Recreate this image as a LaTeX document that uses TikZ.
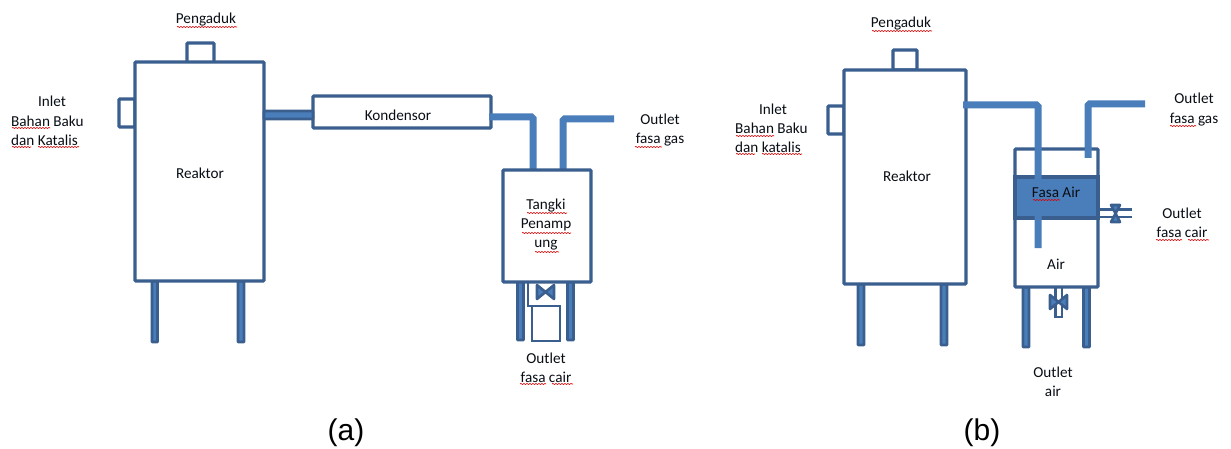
\documentclass[tikz,border=0pt]{standalone}
\usepackage{fontspec}
\setmainfont{Carlito}
\newfontfamily\capfont{Liberation Sans}
\usetikzlibrary{decorations.pathmorphing}
\definecolor{edgeblue}{HTML}{3A5F8F}
\definecolor{fillblue}{HTML}{4A7EBB}
\tikzset{
  x=1pt,y=-1pt,
  vessel/.style={draw=edgeblue,line width=3.2pt,rounded corners=0.8pt,fill=white,outer sep=0pt,inner sep=0pt,anchor=north west},
  legbar/.style={draw=edgeblue,line width=2.8pt,fill=fillblue,rounded corners=0.5pt},
  pipe/.style={draw=fillblue,line width=7pt,rounded corners=1.5pt},
  valve/.style={draw=edgeblue,line width=2.6pt,fill=fillblue,line join=round},
  txt/.style={font=\fontsize{15.2}{19.2}\selectfont,text=black!85!edgeblue,align=center,inner sep=0pt},
  sub/.style={font=\fontsize{30}{34}\selectfont\capfont,text=black,inner sep=0pt},
  sq/.style={draw=red!85!black,line width=0.6pt,decorate,decoration={snake,amplitude=0.6pt,segment length=3pt}},
}
\begin{document}
\begin{tikzpicture}
\useasboundingbox (0,0) rectangle (1231,449);
% ---------- (a)
\node[vessel,minimum width=27pt,minimum height=20pt] (stirA) at (187,43) {};
\node[vessel,minimum width=16pt,minimum height=28pt] (inA) at (119,99) {};
\draw[legbar] (152,281) rectangle (157.5,342);
\draw[legbar] (238,281) rectangle (244,342);
\node[vessel,minimum width=129pt,minimum height=219pt] (reakA) at (135,62) {};
\node[vessel,minimum width=178pt,minimum height=32pt] (kond) at (313,96) {};
\draw[legbar] (reakA.east |- 0,111) rectangle (kond.west |- 0,119);
\coordinate (kondOut) at (489,117);
\coordinate (tankInA) at (533,170);
\coordinate (tankOutA) at (563,170);
\coordinate (gasA) at (614,119);
\draw[pipe] (kondOut) -- (tankInA |- kondOut) -- (tankInA);
\draw[pipe] (tankOutA) -- (tankOutA |- gasA) -- (gasA);
\draw[legbar] (517.5,281) rectangle (523.5,340);
\draw[legbar] (567.5,281) rectangle (573.5,340);
\node[vessel,minimum width=88pt,minimum height=112pt] (tankA) at (503,170) {};
\draw[edgeblue,line width=2.4pt] (528,282) -- (528,306) -- (532,306);
\node[anchor=north west,draw=edgeblue,line width=2.8pt,minimum width=28pt,minimum height=35pt,inner sep=0pt,outer sep=0pt] (drainA) at (532,306) {};
\draw[valve] (537,285) -- (554,299) -- (554,285) -- (537,299) -- cycle;
% labels (a)
\node[txt] (tPengA) at (206,20) {Pengaduk};
\node[txt] (tInA) at (52,101) {Inlet};
\node[txt,anchor=west,align=left] (tBahanA) at (11,130.5) {Bahan Baku\\dan Katalis};
\node[txt] (tReakA) at (200,173.5) {Reaktor};
\node[txt] (tKond) at (398,115) {Kondensor};
\node[txt] (tGasA) at (660,130) {Outlet\\fasa gas};
\node[txt] (tTank) at (546,224.5) {Tangki\\Penamp\\ung};
\node[txt] (tCairA) at (546,367.5) {Outlet\\fasa cair};
\node[sub] (capA) at (346,433) {(a)};
% spell-check marks (a)
\draw[sq] (177,27) -- (237,27);
\draw[sq] (12,128) -- (50,128);
\draw[sq] (12,147) -- (31,147);
\draw[sq] (38,147) -- (79,147);
\draw[sq] (635,147) -- (662,147);
\draw[sq] (527,213) -- (567,213);
\draw[sq] (522,233) -- (571,233);
\draw[sq] (535,252) -- (559,252);
\draw[sq] (520,384) -- (546,384);
\draw[sq] (552,384) -- (573,384);
% ---------- (b)
\node[vessel,minimum width=24pt,minimum height=20pt] (stirB) at (893,50) {};
\node[vessel,minimum width=16pt,minimum height=28pt] (inB) at (828,106) {};
\draw[legbar] (858,284) rectangle (864,345);
\draw[legbar] (941,284) rectangle (947,345);
\node[vessel,minimum width=122pt,minimum height=214pt] (reakB) at (844,70) {};
\draw[legbar] (1023,287) rectangle (1029,347);
\draw[legbar] (1083.5,287) rectangle (1089.5,347);
\node[vessel,minimum width=83pt,minimum height=138pt] (tankB) at (1015,149) {};
\node[anchor=north west,draw=edgeblue,line width=3.2pt,fill=fillblue,minimum width=83pt,minimum height=41pt,inner sep=0pt,outer sep=0pt] (water) at (1015,177) {};
\coordinate (reakOut) at (963,105);
\coordinate (dip) at (1038,248);
\coordinate (gasIn) at (1088,158);
\coordinate (gasB) at (1145,104);
\draw[pipe] (reakOut) -- (dip |- reakOut) -- (dip);
\draw[pipe] (gasIn) -- (gasIn |- gasB) -- (gasB);
% side valve
\draw[edgeblue,line width=2.6pt] (1098,209.5) -- (1132,209.5);
\draw[edgeblue,line width=2.6pt] (1098,217) -- (1132,217);
\draw[valve] (1111,205) -- (1120,205) -- (1111,222) -- (1120,222) -- cycle;
% bottom valve
\draw[edgeblue,line width=2.6pt] (1055.5,287) -- (1055.5,317) -- (1062,317) -- (1062,287);
\draw[valve] (1050,295) -- (1067,309) -- (1067,295) -- (1050,309) -- cycle;
% labels (b)
\node[txt] (tPengB) at (901,23.5) {Pengaduk};
\node[txt] (tInB) at (773,109.5) {Inlet};
\node[txt,anchor=west,align=left] (tBahanB) at (735,138) {Bahan Baku\\dan katalis};
\node[txt] (tReakB) at (907,176.5) {Reaktor};
\node[txt] (tFasa) at (1056,192.5) {Fasa Air};
\node[txt] (tAir) at (1056,264.5) {Air};
\node[txt] (tGasB) at (1194,109.5) {Outlet\\fasa gas};
\node[txt] (tCairB) at (1182,222.5) {Outlet\\fasa cair};
\node[txt] (tAirOut) at (1053,381.5) {Outlet\\air};
\node[sub] (capB) at (982,433) {(b)};
% spell-check marks (b)
\draw[sq] (872,31) -- (932,31);
\draw[sq] (736,136) -- (774,136);
\draw[sq] (736,154) -- (755,154);
\draw[sq] (762,154) -- (802,154);
\draw[sq] (1170,126) -- (1196,126);
\draw[sq] (1033,200) -- (1060,200);
\draw[sq] (1156,240) -- (1182,240);
\draw[sq] (1188,240) -- (1209,240);
\end{tikzpicture}
\end{document}
